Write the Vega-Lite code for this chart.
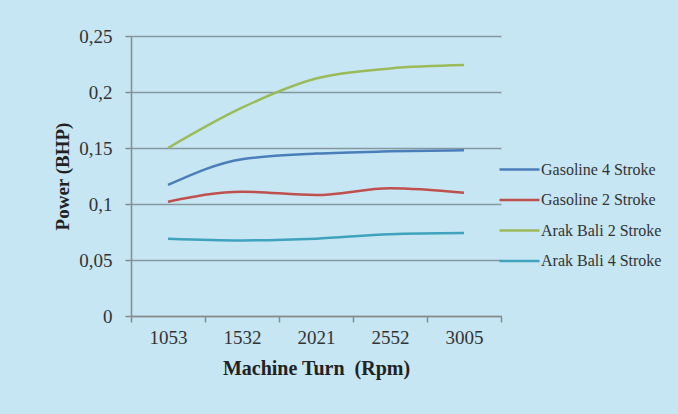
{
  "$schema": "https://vega.github.io/schema/vega-lite/v6.json",
  "width": 370,
  "height": 280,
  "autosize": {"type": "none"},
  "padding": {"left": 131, "top": 36, "right": 177, "bottom": 98},
  "background": "#c6e6f3",
  "config": {
    "view": {"stroke": null},
    "font": "Liberation Serif"
  },
  "data": {
    "values": [
      {"rpm": "1053", "series": "Gasoline 4 Stroke", "power": 0.117},
      {"rpm": "1532", "series": "Gasoline 4 Stroke", "power": 0.140},
      {"rpm": "2021", "series": "Gasoline 4 Stroke", "power": 0.145},
      {"rpm": "2552", "series": "Gasoline 4 Stroke", "power": 0.147},
      {"rpm": "3005", "series": "Gasoline 4 Stroke", "power": 0.148},
      {"rpm": "1053", "series": "Gasoline 2 Stroke", "power": 0.102},
      {"rpm": "1532", "series": "Gasoline 2 Stroke", "power": 0.111},
      {"rpm": "2021", "series": "Gasoline 2 Stroke", "power": 0.108},
      {"rpm": "2552", "series": "Gasoline 2 Stroke", "power": 0.114},
      {"rpm": "3005", "series": "Gasoline 2 Stroke", "power": 0.110},
      {"rpm": "1053", "series": "Arak Bali 2 Stroke", "power": 0.150},
      {"rpm": "1532", "series": "Arak Bali 2 Stroke", "power": 0.186},
      {"rpm": "2021", "series": "Arak Bali 2 Stroke", "power": 0.212},
      {"rpm": "2552", "series": "Arak Bali 2 Stroke", "power": 0.221},
      {"rpm": "3005", "series": "Arak Bali 2 Stroke", "power": 0.224},
      {"rpm": "1053", "series": "Arak Bali 4 Stroke", "power": 0.069},
      {"rpm": "1532", "series": "Arak Bali 4 Stroke", "power": 0.0675},
      {"rpm": "2021", "series": "Arak Bali 4 Stroke", "power": 0.069},
      {"rpm": "2552", "series": "Arak Bali 4 Stroke", "power": 0.073},
      {"rpm": "3005", "series": "Arak Bali 4 Stroke", "power": 0.074}
    ]
  },
  "mark": {"type": "line", "interpolate": "monotone", "strokeWidth": 2.5},
  "encoding": {
    "x": {
      "field": "rpm",
      "type": "ordinal",
      "scale": {"type": "band", "paddingInner": 0, "paddingOuter": 0},
      "axis": {
        "title": "Machine Turn\u00a0 (Rpm)",
        "labelAngle": 0,
        "labelFontSize": 19,
        "labelColor": "#333333",
        "labelPadding": 6,
        "tickBand": "extent",
        "tickSize": 6,
        "tickColor": "#868c8e",
        "tickWidth": 1.5,
        "domainColor": "#868c8e",
        "domainWidth": 1.5,
        "titleFontSize": 20,
        "titleFontWeight": "bold",
        "titleColor": "#222222",
        "titlePadding": 11,
        "grid": false
      }
    },
    "y": {
      "field": "power",
      "type": "quantitative",
      "scale": {"domain": [0, 0.25]},
      "axis": {
        "title": "Power (BHP)",
        "values": [0, 0.05, 0.1, 0.15, 0.2, 0.25],
        "labelExpr": "replace(format(datum.value, ''), '.', ',')",
        "labelFontSize": 19,
        "labelColor": "#333333",
        "labelPadding": 13,
        "tickSize": 6,
        "tickColor": "#868c8e",
        "tickWidth": 1.5,
        "domainColor": "#868c8e",
        "domainWidth": 1.5,
        "gridColor": "#86979e",
        "gridWidth": 1.5,
        "gridOpacity": 1,
        "titleFontSize": 19,
        "titleFontWeight": "bold",
        "titleColor": "#222222",
        "titlePadding": 6
      }
    },
    "color": {
      "field": "series",
      "type": "nominal",
      "scale": {
        "domain": ["Gasoline 4 Stroke", "Gasoline 2 Stroke", "Arak Bali 2 Stroke", "Arak Bali 4 Stroke"],
        "range": ["#4a7ebb", "#c0504d", "#9bbb59", "#3fa3bd"]
      },
      "legend": {
        "title": null,
        "orient": "none",
        "legendX": 367,
        "legendY": 112,
        "symbolType": "stroke",
        "symbolSize": 1600,
        "symbolStrokeWidth": 2.5,
        "labelFontSize": 16,
        "labelColor": "#333333",
        "labelOffset": 0,
        "rowPadding": 0.5
      }
    }
  }
}
